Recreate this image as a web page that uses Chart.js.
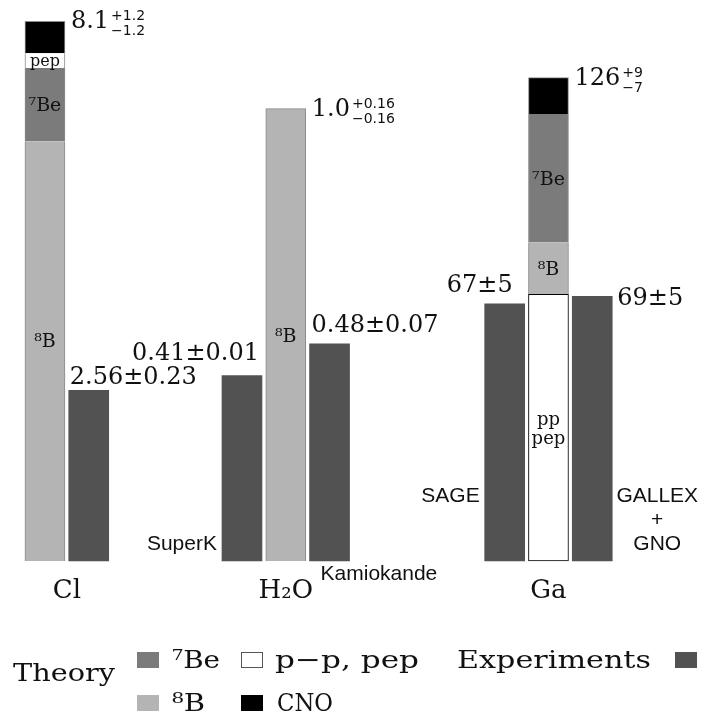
<!DOCTYPE html>
<html>
<head>
<meta charset="utf-8">
<script src="https://cdn.jsdelivr.net/npm/chart.js@4"></script>
<style>
  html, body { margin: 0; padding: 0; background: #ffffff; }
  canvas { display: block; }
</style>
</head>
<body>
<canvas id="chart" width="702" height="713"></canvas>
<script>
// ---- data ----------------------------------------------------------------
// Detector targets
const groupNames = ['Cl', 'H₂O', 'Ga'];

// Predicted rate, split by neutrino source (bottom to top of each stack)
const componentNames = ['p−p, pep', '⁸B', '⁷Be', 'pep', 'CNO'];
const inBarLabels    = [['pp', 'pep'], ['⁸B'], ['⁷Be'], ['pep'], []];
const theoryCl  = [0, 6.3, 1.1, 0.22, 0.48];   // SNU
const theoryH2O = [0, 1.0, 0, 0, 0];           // relative to standard model
const theoryGa  = [69.5, 13.6, 33.4, 0, 9.5];  // SNU
const theoryDigits  = [1, 1, 0];
const theoryErrUp   = ['+1.2', '+0.16', '+9'];
const theoryErrDown = ['−1.2', '−0.16', '−7'];

// Measured rates
const experimentNames  = [[], ['SuperK'], ['Kamiokande'], ['SAGE'], ['GALLEX', '+', 'GNO']];
const experimentGroup  = [0, 1, 1, 2, 2];
const experimentValues = [2.56, 0.41, 0.48, 67, 69];
const experimentErrors = [0.23, 0.01, 0.07, 5, 5];

// ---- layout & style ------------------------------------------------------
const SLOT_COUNT     = 26;
const theorySlot     = [0, 11, 23];
const experimentSlot = [2, 9, 13, 21, 25];
const groupLabelSlot = [1, 11, 23];
const axisIds        = ['yCl', 'yH2O', 'yGa'];
const axisMax        = [8.12, 1.196, 141];
const componentColors = ['#ffffff', '#b4b4b4', '#7b7b7b', '#ffffff', '#000000'];
const experimentColor = '#525252';
const BAR_W = 40;

const SERIF = '"DejaVu Serif", serif';
const SANS  = '"Liberation Sans", Arial, sans-serif';
const INK   = '#111111';

const theoryByGroup = [theoryCl, theoryH2O, theoryGa];

function slotArray(slot, v) {
  const a = new Array(SLOT_COUNT).fill(null);
  a[slot] = v;
  return a;
}

// ---- datasets ------------------------------------------------------------
const datasets = [];
theoryByGroup.forEach((vals, g) => {
  let topIdx = 0;
  vals.forEach((v, c) => { if (v > 0) topIdx = c; });
  vals.forEach((v, c) => {
    if (!(v > 0)) return;
    const outlined = c === 0;
    datasets.push({
      label: componentNames[c],
      data: slotArray(theorySlot[g], v),
      yAxisID: axisIds[g],
      backgroundColor: componentColors[c],
      borderColor: outlined ? '#000000' : '#8a8a8a',
      borderWidth: outlined ? 1 : { left: 1, right: 1, top: c === topIdx ? 1 : 0, bottom: 0 },
      borderSkipped: false,
      barThickness: BAR_W,
      clip: false
    });
  });
});
experimentValues.forEach((v, i) => {
  datasets.push({
    label: experimentNames[i].join(' ') || groupNames[experimentGroup[i]],
    data: slotArray(experimentSlot[i], v),
    yAxisID: axisIds[experimentGroup[i]],
    backgroundColor: experimentColor,
    borderWidth: 0,
    barThickness: BAR_W,
    clip: false
  });
});

// ---- annotation drawing --------------------------------------------------
function text(ctx, str, x, y, font, align) {
  ctx.font = font;
  ctx.textAlign = align || 'left';
  ctx.textBaseline = 'alphabetic';
  ctx.fillText(str, x, y);
}

// legend text stretched horizontally to a set width
function fitText(ctx, str, x, y, font, width) {
  ctx.font = font;
  ctx.textAlign = 'left';
  ctx.textBaseline = 'alphabetic';
  const w = ctx.measureText(str).width;
  ctx.save();
  ctx.translate(x, y);
  ctx.scale(width / w, 1);
  ctx.fillText(str, 0, 0);
  ctx.restore();
}

const labelsPlugin = {
  id: 'solarLabels',
  afterDraw(chart) {
    const ctx = chart.ctx;
    const xs = chart.scales.x;
    ctx.save();
    ctx.fillStyle = INK;

    // theory totals, labels inside segments
    theoryByGroup.forEach((vals, g) => {
      const ys = chart.scales[axisIds[g]];
      const cx = xs.getPixelForValue(theorySlot[g]);
      let acc = 0;
      vals.forEach((v, c) => {
        if (!(v > 0)) return;
        const y0 = ys.getPixelForValue(acc);
        acc += v;
        const y1 = ys.getPixelForValue(acc);
        const lines = inBarLabels[c];
        if (!lines.length) return;
        const mid = (y0 + y1) / 2 + (g === 0 && c === 1 ? -11 : 0);
        const size = lines.length > 1 ? 18 : (c === 3 ? 16 : 19);
        const lh = 19;
        lines.forEach((ln, k) => {
          const yy = mid + (k - (lines.length - 1) / 2) * lh + size * 0.36;
          text(ctx, ln, cx, yy, `${size}px ${SERIF}`, 'center');
        });
      });
      const topY = ys.getPixelForValue(acc);
      const left = cx + BAR_W / 2 + 6;
      const base = topY + 7;
      const main = acc.toFixed(theoryDigits[g]);
      ctx.font = `24px ${SERIF}`;
      const w = ctx.measureText(main).width;
      text(ctx, main, left, base, `24px ${SERIF}`);
      text(ctx, theoryErrUp[g], left + w + 2, base - 8, `14px "DejaVu Sans", sans-serif`);
      text(ctx, theoryErrDown[g], left + w + 2, base + 7, `14px "DejaVu Sans", sans-serif`);
    });

    // measured values and experiment names
    const valuePlace = [
      { ref: 'left',  dx: 1,   dy: -6,  align: 'left'  },
      { ref: 'right', dx: -3,  dy: -16, align: 'right' },
      { ref: 'left',  dx: 2,   dy: -12, align: 'left'  },
      { ref: 'left',  dx: 28,  dy: -12, align: 'right' },
      { ref: 'right', dx: 5,   dy: 9,   align: 'left'  }
    ];
    const namePlace = [
      null,
      { ref: 'left',  dx: -5,  y: 550, align: 'right' },
      { ref: 'left',  dx: 11,  y: 580, align: 'left'  },
      { ref: 'left',  dx: -5,  y: 502, align: 'right' },
      { ref: 'right', dx: 45,  y: 502, align: 'center', lh: 24 }
    ];
    experimentValues.forEach((v, i) => {
      const ys = chart.scales[axisIds[experimentGroup[i]]];
      const cx = xs.getPixelForValue(experimentSlot[i]);
      const top = ys.getPixelForValue(v);
      const edges = { left: cx - BAR_W / 2, right: cx + BAR_W / 2 };
      const p = valuePlace[i];
      text(ctx, `${v}±${experimentErrors[i]}`, edges[p.ref] + p.dx, top + p.dy, `24px ${SERIF}`, p.align);
      const n = namePlace[i];
      if (n) {
        experimentNames[i].forEach((ln, k) => {
          text(ctx, ln, edges[n.ref] + n.dx, n.y + k * (n.lh || 0), `21px ${SANS}`, n.align);
        });
      }
    });

    // detector names under the bars
    groupNames.forEach((name, g) => {
      text(ctx, name, xs.getPixelForValue(groupLabelSlot[g]), 598, `26px ${SERIF}`, 'center');
    });

    // legend
    const lf = `25px ${SERIF}`;
    const swatch = (x, y, fill, stroke) => {
      ctx.fillStyle = fill;
      ctx.fillRect(x, y, 22, 16);
      if (stroke) {
        ctx.strokeStyle = stroke;
        ctx.lineWidth = 1;
        ctx.strokeRect(x + 0.5, y + 0.5, 21, 15);
      }
      ctx.fillStyle = INK;
    };
    fitText(ctx, 'Theory', 13, 681, lf, 102);
    swatch(137, 652, componentColors[2]);
    fitText(ctx, componentNames[2], 172, 668, lf, 48);
    swatch(241, 652, componentColors[0], '#555555');
    fitText(ctx, componentNames[0], 275, 668, lf, 144);
    swatch(137, 695, componentColors[1]);
    fitText(ctx, componentNames[1], 172, 711, lf, 33);
    swatch(241, 695, componentColors[4]);
    fitText(ctx, componentNames[4], 277, 711, lf, 56);
    fitText(ctx, 'Experiments', 457, 668, lf, 194);
    swatch(675, 652, experimentColor);

    ctx.restore();
  }
};

// ---- chart ---------------------------------------------------------------
const yScale = (max) => ({
  type: 'linear', stacked: true, display: false, min: 0, max: max,
  grid: { display: false }
});

new Chart(document.getElementById('chart'), {
  type: 'bar',
  data: { labels: new Array(SLOT_COUNT).fill(''), datasets: datasets },
  options: {
    responsive: false,
    animation: false,
    devicePixelRatio: 1,
    layout: { padding: { left: 34, right: 98.8, top: 20, bottom: 152 } },
    plugins: { legend: { display: false }, tooltip: { enabled: false } },
    scales: {
      x: { type: 'category', stacked: true, display: false, offset: true, grid: { display: false } },
      yCl:  yScale(axisMax[0]),
      yH2O: yScale(axisMax[1]),
      yGa:  yScale(axisMax[2])
    }
  },
  plugins: [labelsPlugin]
});
</script>
</body>
</html>
